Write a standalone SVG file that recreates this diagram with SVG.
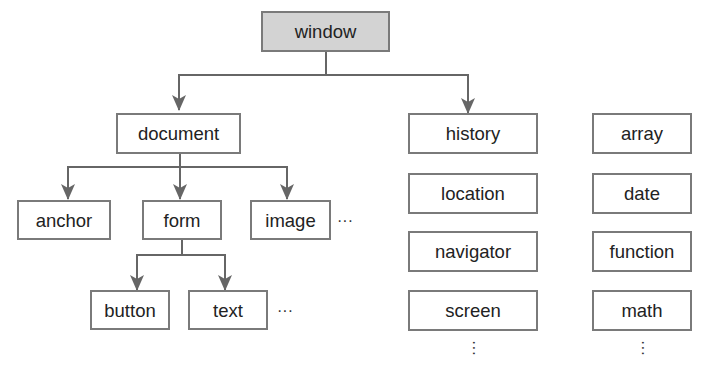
<svg xmlns="http://www.w3.org/2000/svg" width="710" height="371" viewBox="0 0 710 371">
<style>
.box{fill:#fff;stroke:#7a7a7a;stroke-width:2}
.root{fill:#d3d3d3;stroke:#7a7a7a;stroke-width:2}
.lbl{font-family:"Liberation Sans",Arial,sans-serif;font-size:18.5px;fill:#222;text-anchor:middle;dominant-baseline:central}
.dots{font-family:"Liberation Sans",Arial,sans-serif;font-size:16px;fill:#333;text-anchor:middle;dominant-baseline:central}
.con{fill:none;stroke:#666;stroke-width:2}
</style>
<defs>
<marker id="arr" markerWidth="14" markerHeight="16" refX="7" refY="15" orient="0" markerUnits="userSpaceOnUse" viewBox="0 0 14 16">
<path d="M0,0 L7,4 L14,0 L7,16 Z" fill="#666"/>
</marker>
</defs>
<rect width="710" height="371" fill="#fff"/>
<g id="connectors">
<path class="con" d="M326,51 V75 H179 V110" marker-end="url(#arr)"/>
<path class="con" d="M326,75 H468 V113" marker-end="url(#arr)"/>
<path class="con" d="M180,153 V167 H68 V199" marker-end="url(#arr)"/>
<path class="con" d="M180,167 V199" marker-end="url(#arr)"/>
<path class="con" d="M180,167 H287 V199" marker-end="url(#arr)"/>
<path class="con" d="M182,239 V255 H137 V290" marker-end="url(#arr)"/>
<path class="con" d="M182,255 H225 V290" marker-end="url(#arr)"/>
</g>
<g id="window"><rect class="root" x="262" y="12" width="127" height="39"/><text class="lbl" x="325.5" y="31.5">window</text></g>
<g id="document"><rect class="box" x="117" y="114" width="123" height="39"/><text class="lbl" x="178.5" y="133.5">document</text></g>
<g id="anchor"><rect class="box" x="18" y="201" width="92" height="38"/><text class="lbl" x="64" y="220">anchor</text></g>
<g id="form"><rect class="box" x="143" y="201" width="78" height="38"/><text class="lbl" x="182" y="220">form</text></g>
<g id="image"><rect class="box" x="251" y="201" width="79" height="38"/><text class="lbl" x="290.5" y="220">image</text></g>
<text class="dots" x="345" y="220">···</text>
<g id="button"><rect class="box" x="91" y="291" width="78" height="38"/><text class="lbl" x="130" y="310">button</text></g>
<g id="text"><rect class="box" x="189" y="291" width="78" height="38"/><text class="lbl" x="228" y="310">text</text></g>
<text class="dots" x="285" y="310">···</text>
<g id="history"><rect class="box" x="409" y="114" width="128" height="39"/><text class="lbl" x="473" y="133.5">history</text></g>
<g id="location"><rect class="box" x="409" y="174" width="128" height="39"/><text class="lbl" x="473" y="193.5">location</text></g>
<g id="navigator"><rect class="box" x="409" y="232" width="128" height="39"/><text class="lbl" x="473" y="251.5">navigator</text></g>
<g id="screen"><rect class="box" x="409" y="291" width="128" height="39"/><text class="lbl" x="473" y="310.5">screen</text></g>
<text class="dots" x="474" y="348" transform="rotate(90 474 348)">···</text>
<g id="array"><rect class="box" x="593" y="114" width="98" height="39"/><text class="lbl" x="642" y="133.5">array</text></g>
<g id="date"><rect class="box" x="593" y="174" width="98" height="39"/><text class="lbl" x="642" y="193.5">date</text></g>
<g id="function"><rect class="box" x="593" y="232" width="98" height="39"/><text class="lbl" x="642" y="251.5">function</text></g>
<g id="math"><rect class="box" x="593" y="291" width="98" height="39"/><text class="lbl" x="642" y="310.5">math</text></g>
<text class="dots" x="643" y="348" transform="rotate(90 643 348)">···</text>
</svg>
